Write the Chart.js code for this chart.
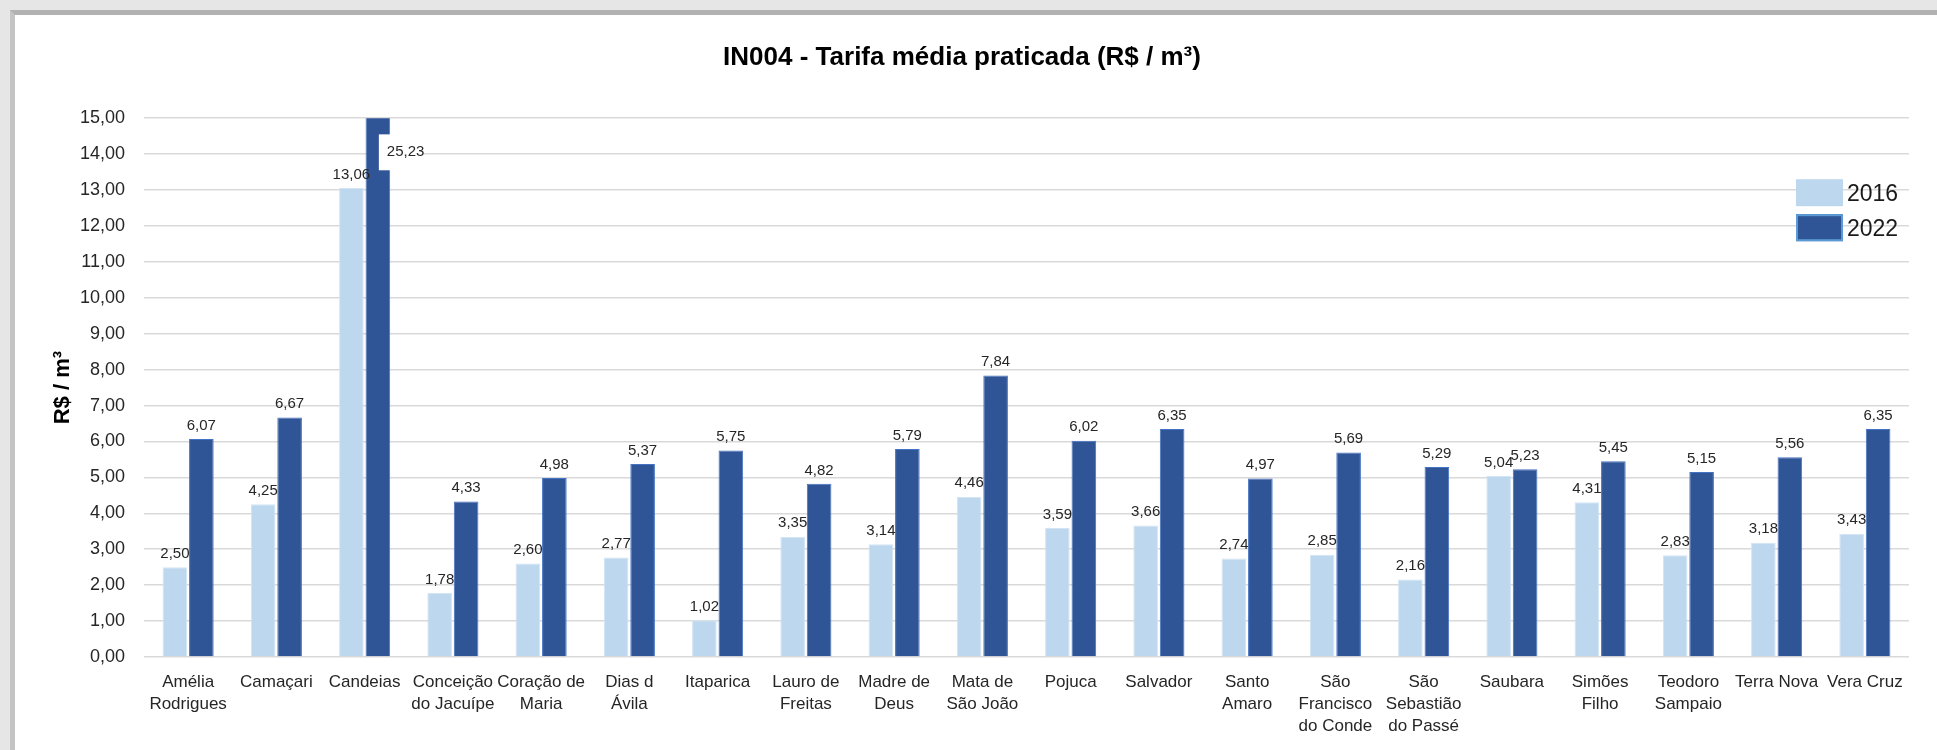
<!DOCTYPE html>
<html>
<head>
<meta charset="utf-8">
<script src="https://cdn.jsdelivr.net/npm/chart.js@4.4.1/dist/chart.umd.min.js"></script>
<style>
  html, body { margin: 0; padding: 0; }
  body { width: 1937px; height: 750px; background: #e6e6e6; position: relative; overflow: hidden; }
  #frame {
    position: absolute; left: 10px; top: 10px; width: 1927px; height: 740px;
    border-top: 5px solid #b2b2b2; border-left: 5px solid #c4c4c4;
    background: #ffffff; box-sizing: border-box;
  }
  #wrap { position: absolute; left: 0; top: 0; width: 1922px; height: 735px; }
</style>
</head>
<body>
<div id="frame"><div id="wrap"><canvas id="tarifaChart"></canvas></div></div>
<script>
// municipalities
const categories = [
  ["Amélia", "Rodrigues"], "Camaçari", "Candeias", ["Conceição", "do Jacuípe"],
  ["Coração de", "Maria"], ["Dias d", "Ávila"], "Itaparica", ["Lauro de", "Freitas"],
  ["Madre de", "Deus"], ["Mata de", "São João"], "Pojuca", "Salvador",
  ["Santo", "Amaro"], ["São", "Francisco", "do Conde"], ["São", "Sebastião", "do Passé"],
  "Saubara", ["Simões", "Filho"], ["Teodoro", "Sampaio"], "Terra Nova", "Vera Cruz"
];

// tarifa media (R$ / m3)
const values2016 = [2.50, 4.25, 13.06, 1.78, 2.60, 2.77, 1.02, 3.35, 3.14, 4.46,
                    3.59, 3.66, 2.74, 2.85, 2.16, 5.04, 4.31, 2.83, 3.18, 3.43];
const values2022 = [6.07, 6.67, 25.23, 4.33, 4.98, 5.37, 5.75, 4.82, 5.79, 7.84,
                    6.02, 6.35, 4.97, 5.69, 5.29, 5.23, 5.45, 5.15, 5.56, 6.35];

const seriesNames = ["2016", "2022"];
const yTicks = [0, 1, 2, 3, 4, 5, 6, 7, 8, 9, 10, 11, 12, 13, 14, 15];

const NARROW = "'Liberation Sans Narrow', 'Arial Narrow', 'Liberation Sans', Arial, sans-serif";
const REGULAR = "'Liberation Sans', Arial, sans-serif";

function fmt(v) {
  return v.toFixed(2).replace(".", ",");
}

// value labels above bars, with a break marker for bars above the axis max
const valueLabels = {
  id: "valueLabels",
  afterDatasetsDraw(chart) {
    const ctx = chart.ctx;
    const yScale = chart.scales.y;
    ctx.save();
    ctx.font = "15px " + NARROW;
    ctx.fillStyle = "#262626";
    chart.data.datasets.forEach((ds, i) => {
      const meta = chart.getDatasetMeta(i);
      meta.data.forEach((bar, j) => {
        const v = ds.data[j];
        if (v > yScale.max) {
          const yTop = yScale.getPixelForValue(14.55);
          const yBot = yScale.getPixelForValue(13.55);
          ctx.fillStyle = "#ffffff";
          ctx.fillRect(bar.x + 1, yTop, 44, yBot - yTop);
          ctx.fillStyle = "#262626";
          ctx.textAlign = "left";
          ctx.textBaseline = "middle";
          ctx.fillText(fmt(v), bar.x + 9, (yTop + yBot) / 2);
        } else {
          ctx.textAlign = "center";
          ctx.textBaseline = "bottom";
          ctx.fillText(fmt(v), bar.x, bar.y - 6);
        }
      });
    });
    ctx.restore();
  }
};

// legend drawn inside the plot, top right
const insideLegend = {
  id: "insideLegend",
  afterDraw(chart) {
    const ctx = chart.ctx;
    const area = chart.chartArea;
    ctx.save();
    ctx.font = "23px " + REGULAR;
    ctx.textAlign = "left";
    ctx.textBaseline = "middle";
    chart.data.datasets.forEach((ds, i) => {
      const bx = area.right - 113;
      const by = area.top + 61 + i * 35;
      ctx.fillStyle = ds.backgroundColor;
      ctx.fillRect(bx, by, 47, 27);
      if (i === 1) {
        ctx.strokeStyle = "#5b9bd5";
        ctx.lineWidth = 2;
        ctx.strokeRect(bx + 1, by + 1, 45, 25);
      }
      ctx.fillStyle = "#1a1a1a";
      ctx.fillText(ds.label, area.right - 62, by + 15);
    });
    ctx.restore();
  }
};

document.addEventListener("DOMContentLoaded", function () {
  const ctx = document.getElementById("tarifaChart").getContext("2d");

  new Chart(ctx, {
    type: "bar",
    data: {
      labels: categories,
      datasets: [
        {
          label: seriesNames[0],
          data: values2016,
          backgroundColor: "#bdd7ee",
          borderColor: "#d3e4f4",
          borderWidth: 1,
          categoryPercentage: 0.6,
          barPercentage: 0.93,
        },
        {
          label: seriesNames[1],
          data: values2022,
          backgroundColor: "#2f5597",
          borderColor: "#4472c4",
          borderWidth: 1,
          categoryPercentage: 0.6,
          barPercentage: 0.93,
        },
      ],
    },
    options: {
      responsive: true,
      maintainAspectRatio: false,
      animation: false,
      layout: { padding: { left: 0, right: 28, top: 0, bottom: 0 } },
      plugins: {
        legend: { display: false },
        tooltip: { enabled: false },
        title: {
          display: true,
          text: "IN004 - Tarifa média praticada (R$ / m³)",
          color: "#000000",
          font: { family: NARROW, size: 26, weight: "bold" },
          padding: { top: 27, bottom: 45 },
        },
      },
      scales: {
        x: {
          grid: { display: false },
          border: { display: false },
          ticks: {
            color: "#262626",
            font: { family: NARROW, size: 17, lineHeight: 1.3 },
            padding: 6,
            maxRotation: 0,
            autoSkip: false,
          },
          afterFit(scale) { scale.height = 93; },
        },
        y: {
          min: 0,
          max: 15,
          afterBuildTicks(scale) { scale.ticks = yTicks.map((v) => ({ value: v })); },
          grid: { color: "#d9d9d9", lineWidth: 1.5, drawTicks: false },
          border: { display: false },
          ticks: {
            color: "#262626",
            font: { family: NARROW, size: 18 },
            padding: 19,
            callback: (v) => fmt(v),
          },
          title: {
            display: true,
            text: "R$ / m³",
            color: "#000000",
            font: { family: REGULAR, size: 22, weight: "bold" },
            padding: { top: 35, bottom: 0 },
          },
          afterFit(scale) { scale.width = 129; },
        },
      },
    },
    plugins: [valueLabels, insideLegend],
  });
});
</script>
</body>
</html>
